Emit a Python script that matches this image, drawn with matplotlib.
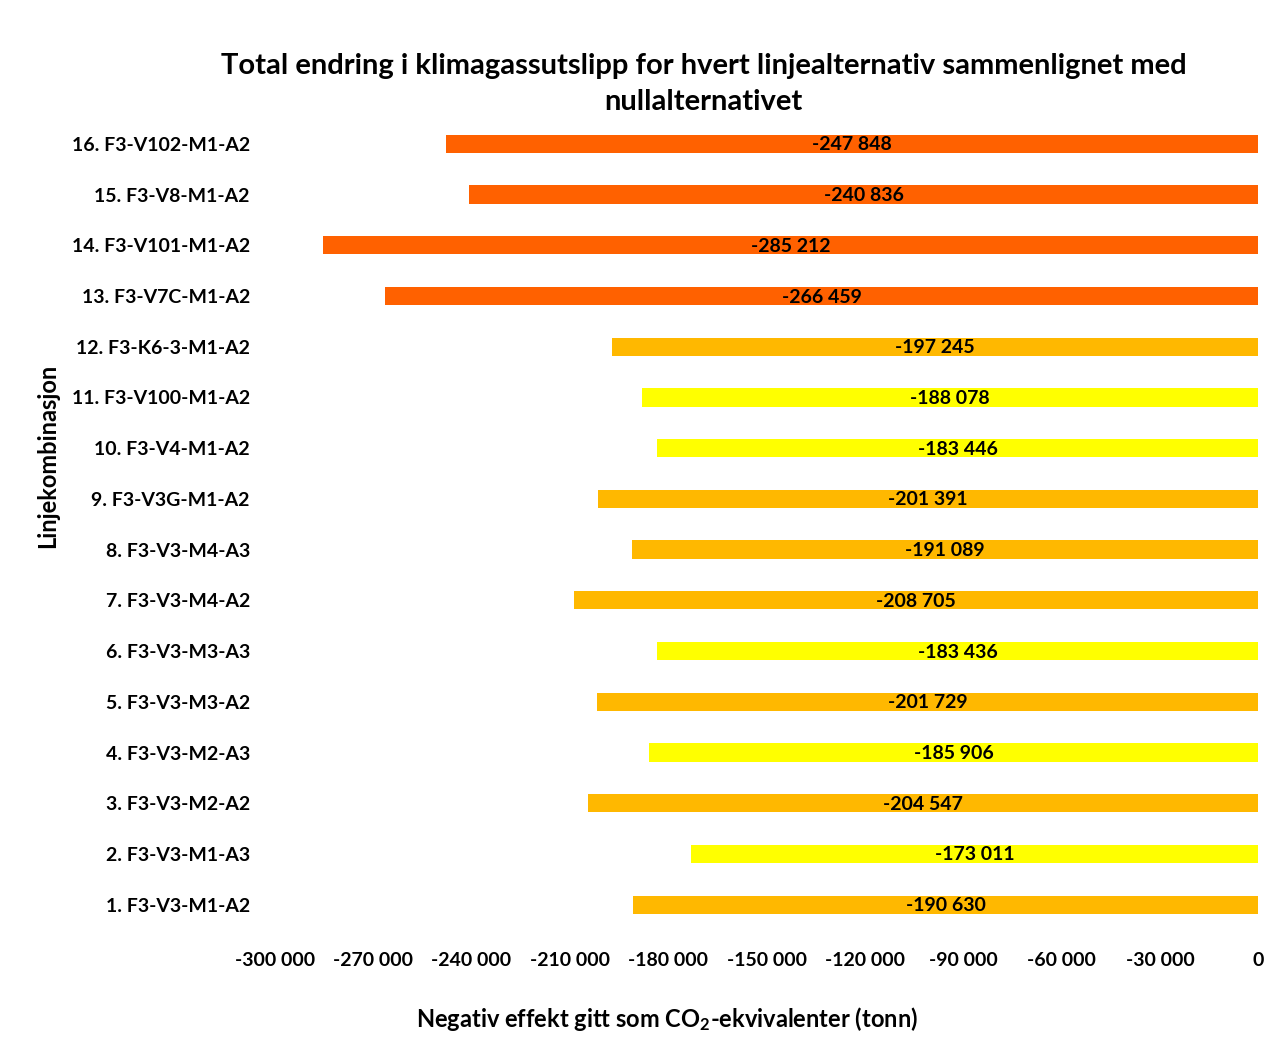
import matplotlib
matplotlib.use("Agg")
import matplotlib.pyplot as plt
from matplotlib.ticker import FuncFormatter, FixedLocator

plt.rcParams['font.family'] = ['Lato', 'DejaVu Sans']
plt.rcParams['font.weight'] = 'bold'
plt.rcParams['mathtext.fontset'] = 'custom'
plt.rcParams['mathtext.rm'] = 'Lato:bold'
plt.rcParams['mathtext.it'] = 'Lato:bold'
plt.rcParams['mathtext.bf'] = 'Lato:bold'
plt.rcParams['mathtext.default'] = 'rm'

categories = [
    "1. F3-V3-M1-A2", "2. F3-V3-M1-A3", "3. F3-V3-M2-A2", "4. F3-V3-M2-A3",
    "5. F3-V3-M3-A2", "6. F3-V3-M3-A3", "7. F3-V3-M4-A2", "8. F3-V3-M4-A3",
    "9. F3-V3G-M1-A2", "10. F3-V4-M1-A2", "11. F3-V100-M1-A2", "12. F3-K6-3-M1-A2",
    "13. F3-V7C-M1-A2", "14. F3-V101-M1-A2", "15. F3-V8-M1-A2", "16. F3-V102-M1-A2",
]
values = [-190630, -173011, -204547, -185906, -201729, -183436, -208705, -191089,
          -201391, -183446, -188078, -197245, -266459, -285212, -240836, -247848]
color_groups = ["amber", "yellow", "amber", "yellow", "amber", "yellow", "amber", "amber",
                "amber", "yellow", "yellow", "amber", "red", "red", "red", "red"]
palette = {"red": "#FF6100", "amber": "#FFB800", "yellow": "#FFFF00"}
xticks = [-300000, -270000, -240000, -210000, -180000, -150000, -120000,
          -90000, -60000, -30000, 0]

fig = plt.figure(figsize=(12.84, 10.54), dpi=100)
ax = fig.add_axes([0.214, 0.1176, 0.766, 0.77])

ypos = list(range(len(categories)))
ax.barh(ypos, values, height=0.36, color=[palette[g] for g in color_groups])

def fmt(v):
    s = f"{abs(int(round(v))):,}".replace(",", " ")
    return ("-" if v < 0 else "") + s

for y, v in zip(ypos, values):
    ax.text(v / 2, y - 0.02, fmt(v), ha='center', va='center', fontsize=14,
            fontweight='bold', color='black')

ax.set_xlim(-300000, 0)
ax.set_ylim(-0.5, len(categories) - 0.5)
ax.xaxis.set_major_locator(FixedLocator(xticks))
ax.xaxis.set_major_formatter(FuncFormatter(lambda v, p: fmt(v)))
ax.set_yticks(ypos)
ax.set_yticklabels(categories, fontsize=14, fontweight='bold')
ax.tick_params(axis='x', labelsize=14, length=0, pad=16)
ax.tick_params(axis='y', length=0, pad=18)
for s in ax.spines.values():
    s.set_visible(False)

ax.set_xlabel("Negativ effekt gitt som CO$_2$-ekvivalenter (tonn)",
              fontsize=17, fontweight='bold')
ax.xaxis.set_label_coords(0.399, -0.092)
ax.set_ylabel("Linjekombinasjon", fontsize=17, fontweight='bold')
ax.yaxis.set_label_coords(-0.219, 0.584)
fig.text(0.548, 0.937, "Total endring i klimagassutslipp for hvert linjealternativ sammenlignet med",
         ha='center', va='center', fontsize=21, fontweight='bold')
fig.text(0.548, 0.903, "nullalternativet", ha='center', va='center', fontsize=21, fontweight='bold')

fig.savefig("out.png", dpi=100, facecolor='white')
